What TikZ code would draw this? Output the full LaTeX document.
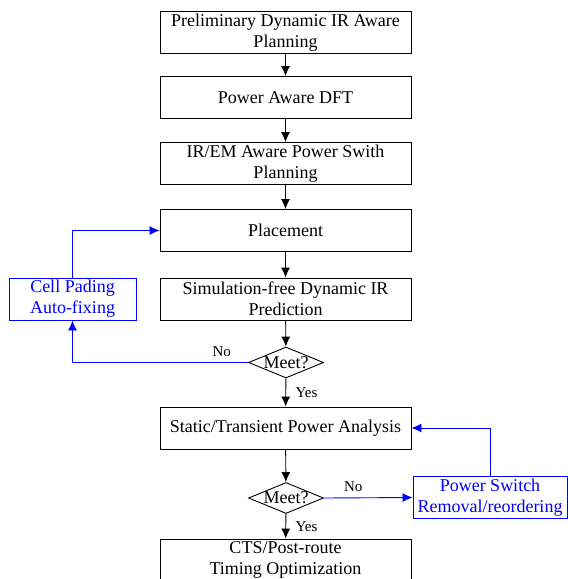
\documentclass[tikz,border=0pt]{standalone}
\usepackage{fontspec}
\setmainfont{Liberation Serif}
\usetikzlibrary{shapes}
\usetikzlibrary{shapes.geometric}
\usetikzlibrary{arrows.meta}
\tikzset{
    mybox/.style = {rectangle, draw=black, align=center, minimum width=251pt, minimum height=42pt, inner sep=0pt},
    myboxb/.style = {rectangle, draw=blue, text=blue, align=center, minimum height=42pt, inner sep=0pt},
    mydia/.style = {diamond, draw=black, aspect=2.4, inner sep=-1pt, minimum width=75pt, minimum height=31pt},
    mylabel/.style = {font=\fontsize{15}{17}\selectfont},
    edgen/.style = {-{Latex[length=10pt,width=9pt]}, black},
    edgeb/.style = {-{Latex[length=10pt,width=9pt]}, blue}, % feedback
}

\begin{document}
\begin{tikzpicture}[x=1pt, y=-1pt, line width=0.9pt, font=\fontsize{18}{21}\selectfont]
\useasboundingbox (0,0) rectangle (568,579);

\node[mybox] at (285.5, 32.5) (prelim) {Preliminary Dynamic IR Aware\\Planning};
\node[mybox] at (285.5, 97.5) (dft) {Power Aware DFT};
\node[mybox] at (285.5,163.5) (switch) {IR/EM Aware Power Swith\\Planning};
\node[mybox] at (285.5,230.5) (place) {Placement};
\node[mybox] at (285.5,299.0) (predict) {Simulation-free Dynamic IR\\Prediction};
\node[mydia] at (286.0,362.5) (meeta) {Meet?};
\node[mybox] at (285.5,428.0) (power) {Static/Transient Power Analysis};
\node[mydia] at (286.0,498.0) (meetb) {Meet?};
\node[mybox] at (285.5,560.0) (cts) {CTS/Post-route\\Timing Optimization};

\node[myboxb, minimum width=127pt] at ( 72.5,299.0) (pading) {Cell Pading\\Auto-fixing};
\node[myboxb, minimum width=154pt] at (490.0,497.5) (removal) {Power Switch\\Removal/reordering};

\draw[edgen] (prelim) -- (dft);
\draw[edgen] (dft) -- (switch);
\draw[edgen] (switch) -- (place);
\draw[edgen] (place) -- (predict);
\draw[edgen] (predict) -- (meeta);
\draw[edgen] (meeta) -- node[mylabel, right=6pt] {Yes} (power);
\draw[edgen] (power) -- (meetb);
\draw[edgen] (meetb) -- node[mylabel, right=6pt] {Yes} (cts);

\draw[edgeb] (meeta.west) -- node[mylabel, black, above=2pt, pos=0.15] {No} (meeta.west -| pading.south) -- (pading.south);
\draw[edgeb] (pading.north) |- (place.west);
\draw[edgeb] (meetb.east) -- node[mylabel, black, above=2pt, pos=0.33] {No} (removal.west);
\draw[edgeb] (removal.north) |- (power.east);

\end{tikzpicture}
\end{document}
